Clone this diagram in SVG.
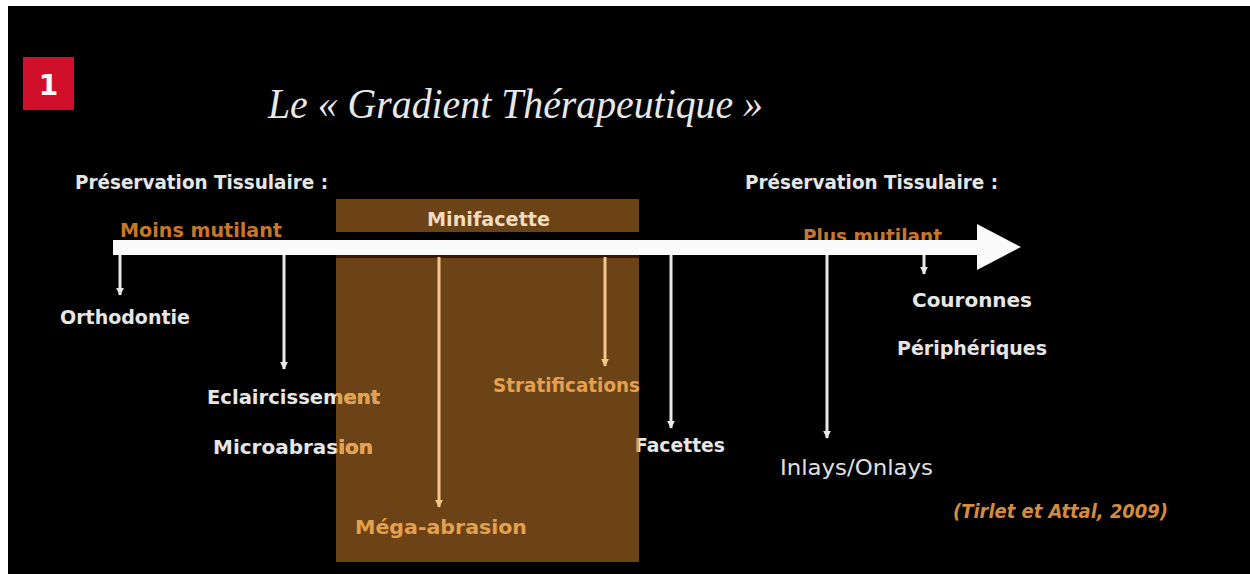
<svg xmlns="http://www.w3.org/2000/svg" width="1250" height="574" viewBox="0 0 1250 574">
<style>
.lbl{font-family:"DejaVu Sans","Liberation Sans",sans-serif;font-weight:bold;font-size:19px}
.w{fill:#e6e6e6}
.o{fill:#e4a04e}
.or{fill:#c9762a}
.cw{stroke:#e8e8e8;stroke-width:3;fill:none}
.co{stroke:#f6c888;stroke-width:3;fill:none}
</style>
<defs>
<marker id="hw" viewBox="0 0 10 10" refX="9" refY="5" markerWidth="8" markerHeight="8" markerUnits="userSpaceOnUse" orient="auto"><path d="M0,0 L10,5 L0,10 Z" fill="#e8e8e8"/></marker>
<marker id="ho" viewBox="0 0 10 10" refX="9" refY="5" markerWidth="8" markerHeight="8" markerUnits="userSpaceOnUse" orient="auto"><path d="M0,0 L10,5 L0,10 Z" fill="#f6c888"/></marker>
<clipPath id="brown"><rect x="336" y="256" width="303" height="306"/></clipPath>
</defs>
<rect x="0" y="0" width="1250" height="574" fill="#fff"/>
<rect x="8" y="6" width="1242" height="568" fill="#000"/>

<g id="badge">
<rect x="23" y="57" width="51" height="53" fill="#d0102a"/>
<text x="48.5" y="95" text-anchor="middle" font-family="DejaVu Sans,sans-serif" font-weight="bold" font-size="28" fill="#fff">1</text>
</g>

<g id="title">
<text x="268" y="118" font-family="Liberation Serif,serif" font-style="italic" font-size="42" fill="#e8e8e8" textLength="495" lengthAdjust="spacingAndGlyphs">Le « Gradient Thérapeutique »</text>
</g>

<g id="pres-left"><text class="lbl w" x="75" y="189" textLength="253" lengthAdjust="spacingAndGlyphs">Préservation Tissulaire :</text></g>
<g id="pres-right"><text class="lbl w" x="745" y="189" textLength="253" lengthAdjust="spacingAndGlyphs">Préservation Tissulaire :</text></g>

<g id="minifacette-zone">
<rect x="336" y="199" width="303" height="33" fill="#6b4317"/>
<rect x="336" y="256" width="303" height="306" fill="#6b4317"/>
<rect x="336" y="255" width="303" height="3" fill="#3a1606"/>
<text class="lbl" x="427" y="226" fill="#f2dcc0" textLength="123" lengthAdjust="spacingAndGlyphs">Minifacette</text>
</g>

<g id="moins"><text class="lbl or" x="120" y="237" textLength="162" lengthAdjust="spacingAndGlyphs">Moins mutilant</text></g>
<g id="plus"><text class="lbl or" x="803" y="243" textLength="139" lengthAdjust="spacingAndGlyphs">Plus mutilant</text></g>

<g id="axis">
<rect x="113" y="240" width="865" height="15" fill="#fafafa"/>
<path d="M977,224 L1021,247 L977,270 Z" fill="#fafafa"/>
</g>

<g id="connectors">
<line class="cw" x1="120" y1="255" x2="120" y2="295" marker-end="url(#hw)"/>
<line class="cw" x1="284" y1="255" x2="284" y2="369" marker-end="url(#hw)"/>
<line class="co" x1="439" y1="257" x2="439" y2="507" marker-end="url(#ho)"/>
<line class="co" x1="605" y1="257" x2="605" y2="366" marker-end="url(#ho)"/>
<line class="cw" x1="671" y1="255" x2="671" y2="428" marker-end="url(#hw)"/>
<line class="cw" x1="827" y1="255" x2="827" y2="438" marker-end="url(#hw)"/>
<line class="cw" x1="924" y1="255" x2="924" y2="274" marker-end="url(#hw)"/>
</g>

<g id="orthodontie"><text class="lbl w" x="60" y="324" textLength="130" lengthAdjust="spacingAndGlyphs">Orthodontie</text></g>
<g id="eclaircissement">
<text class="lbl w" x="207" y="404" textLength="173" lengthAdjust="spacingAndGlyphs">Eclaircissement</text>
<text class="lbl o" x="207" y="404" textLength="173" lengthAdjust="spacingAndGlyphs" clip-path="url(#brown)">Eclaircissement</text>
</g>
<g id="microabrasion">
<text class="lbl w" x="213" y="454" textLength="160" lengthAdjust="spacingAndGlyphs">Microabrasion</text>
<text class="lbl o" x="213" y="454" textLength="160" lengthAdjust="spacingAndGlyphs" clip-path="url(#brown)">Microabrasion</text>
</g>
<g id="mega-abrasion"><text class="lbl o" x="355" y="534" textLength="172" lengthAdjust="spacingAndGlyphs">Méga-abrasion</text></g>
<g id="stratifications"><text class="lbl o" x="493" y="392" textLength="147" lengthAdjust="spacingAndGlyphs">Stratifications</text></g>
<g id="facettes">
<text class="lbl w" x="635" y="452" textLength="90" lengthAdjust="spacingAndGlyphs">Facettes</text>
<text class="lbl o" x="635" y="452" textLength="90" lengthAdjust="spacingAndGlyphs" clip-path="url(#brown)">Facettes</text>
</g>
<g id="inlays"><text x="780" y="475" font-family="DejaVu Sans,sans-serif" font-size="22" fill="#e0e0e0" textLength="153" lengthAdjust="spacingAndGlyphs">Inlays/Onlays</text></g>
<g id="couronnes">
<text class="lbl w" x="912" y="307" textLength="120" lengthAdjust="spacingAndGlyphs">Couronnes</text>
<text class="lbl w" x="897" y="355" textLength="150" lengthAdjust="spacingAndGlyphs">Périphériques</text>
</g>
<g id="reference"><text class="lbl" x="953" y="518" font-style="italic" fill="#d48c3c" textLength="215" lengthAdjust="spacingAndGlyphs">(Tirlet et Attal, 2009)</text></g>
</svg>
